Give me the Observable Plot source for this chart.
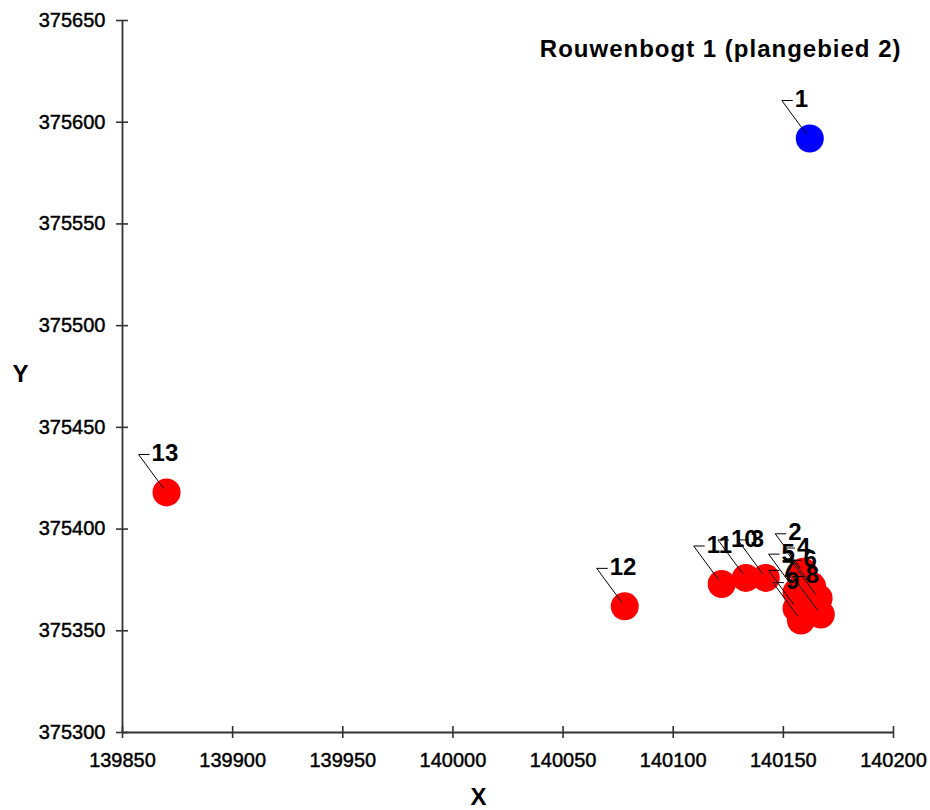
<!DOCTYPE html>
<html>
<head>
<meta charset="utf-8">
<script src="https://cdn.jsdelivr.net/npm/d3@7"></script>
<script src="https://cdn.jsdelivr.net/npm/@observablehq/plot@0.6"></script>
<style>
  html, body { margin: 0; padding: 0; background: #fff; }
  svg { font-family: "Liberation Sans", Arial, sans-serif; }
  g[aria-label="x-axis tick label"] text,
  g[aria-label="y-axis tick label"] text { stroke: #000; stroke-width: 0.45px; }
</style>
</head>
<body>
<div id="chart"></div>
<script>
// ---- data ----
const labels = ["1","2","3","4","5","6","7","8","9","10","11","12","13"];
const xs = [140162, 140159, 140142, 140163, 140156, 140166, 140156, 140167, 140158, 140133, 140122, 140078, 139870];
const ys = [375592, 375379, 375376, 375372, 375369, 375366, 375361, 375358, 375355, 375376, 375373, 375362, 375418];
const highlighted = ["1"];               // drawn in blue, others red
const xTicks = [139850, 139900, 139950, 140000, 140050, 140100, 140150, 140200];
const yTicks = [375300, 375350, 375400, 375450, 375500, 375550, 375600, 375650];
const title = "Rouwenbogt 1 (plangebied 2)";
const xLabel = "X";
const yLabel = "Y";

// ---- layout ----
const W = 930, H = 810;
const mL = 122, mR = 37, mT = 20, mB = 78;
const xDom = [139850, 140200], yDom = [375300, 375650];
// data units per pixel (for leader-line offsets expressed in pixels)
const kx = (xDom[1] - xDom[0]) / (W - mL - mR);
const ky = (yDom[1] - yDom[0]) / (H - mT - mB);

const data = labels.map((l, i) => ({label: l, x: xs[i], y: ys[i], hi: highlighted.includes(l)}));

const axisColor = "#333";

const chart = Plot.plot({
  width: W, height: H,
  marginLeft: mL, marginRight: mR, marginTop: mT, marginBottom: mB,
  x: {domain: xDom, label: null},
  y: {domain: yDom, label: null},
  style: {fontFamily: "'Liberation Sans', Arial, sans-serif", color: "#000", background: "#fff"},
  marks: [
    // axis lines
    Plot.ruleX([xDom[0]], {stroke: axisColor, strokeWidth: 1.8}),
    Plot.ruleY([yDom[0]], {stroke: axisColor, strokeWidth: 1.8}),
    // crossing tick marks
    Plot.ruleX(xTicks, {x: d => d, y1: yDom[0], y2: yDom[0], insetTop: -6, insetBottom: -6, stroke: axisColor, strokeWidth: 1.6}),
    Plot.ruleY(yTicks, {y: d => d, x1: xDom[0], x2: xDom[0], insetLeft: -6, insetRight: -6, stroke: axisColor, strokeWidth: 1.6}),
    // tick labels
    Plot.axisX({ticks: xTicks, tickSize: 0, tickPadding: 20, tickFormat: "d", fontSize: 20, fill: "#000", label: null}),
    Plot.axisY({ticks: yTicks, tickSize: 0, tickPadding: 17, tickFormat: "d", fontSize: 20, fill: "#000", label: null}),
    // points
    Plot.dot(data, {x: "x", y: "y", r: 14, fill: d => d.hi ? "#0000FF" : "#FF0000", stroke: "none"}),
    // leader lines
    Plot.link(data, {
      x1: d => d.x - 3 * kx, y1: d => d.y + 4 * ky,
      x2: d => d.x - 28 * kx, y2: d => d.y + 38 * ky,
      stroke: "#000", strokeWidth: 1
    }),
    Plot.link(data, {
      x1: d => d.x - 28 * kx, y1: d => d.y + 38 * ky,
      x2: d => d.x - 17 * kx, y2: d => d.y + 38 * ky,
      stroke: "#000", strokeWidth: 1
    }),
    // point labels
    Plot.text(data, {x: "x", y: "y", text: "label", textAnchor: "start", dx: -15, dy: -39,
      fontSize: 24, fontWeight: "bold", fill: "#000"}),
    // title
    Plot.text([title], {frameAnchor: "top-right", dx: 8, dy: 29, textAnchor: "end", lineAnchor: "middle",
      fontSize: 24, fontWeight: "bold", fill: "#000"}),
    // axis titles
    Plot.text([xLabel], {frameAnchor: "bottom-left", dx: 478 - mL, dy: 797 - (H - mB), textAnchor: "middle",
      lineAnchor: "middle", fontSize: 24, fontWeight: "bold", fill: "#000"}),
    Plot.text([yLabel], {frameAnchor: "left", dx: 20 - mL, dy: -2, textAnchor: "middle",
      lineAnchor: "middle", fontSize: 24, fontWeight: "bold", fill: "#000"})
  ]
});
// widen the title slightly to match the reference's letter spacing
d3.select(chart).selectAll("text").filter(function () { return this.textContent === title; })
  .style("letter-spacing", "1px");
document.getElementById("chart").appendChild(chart);
</script>
</body>
</html>
